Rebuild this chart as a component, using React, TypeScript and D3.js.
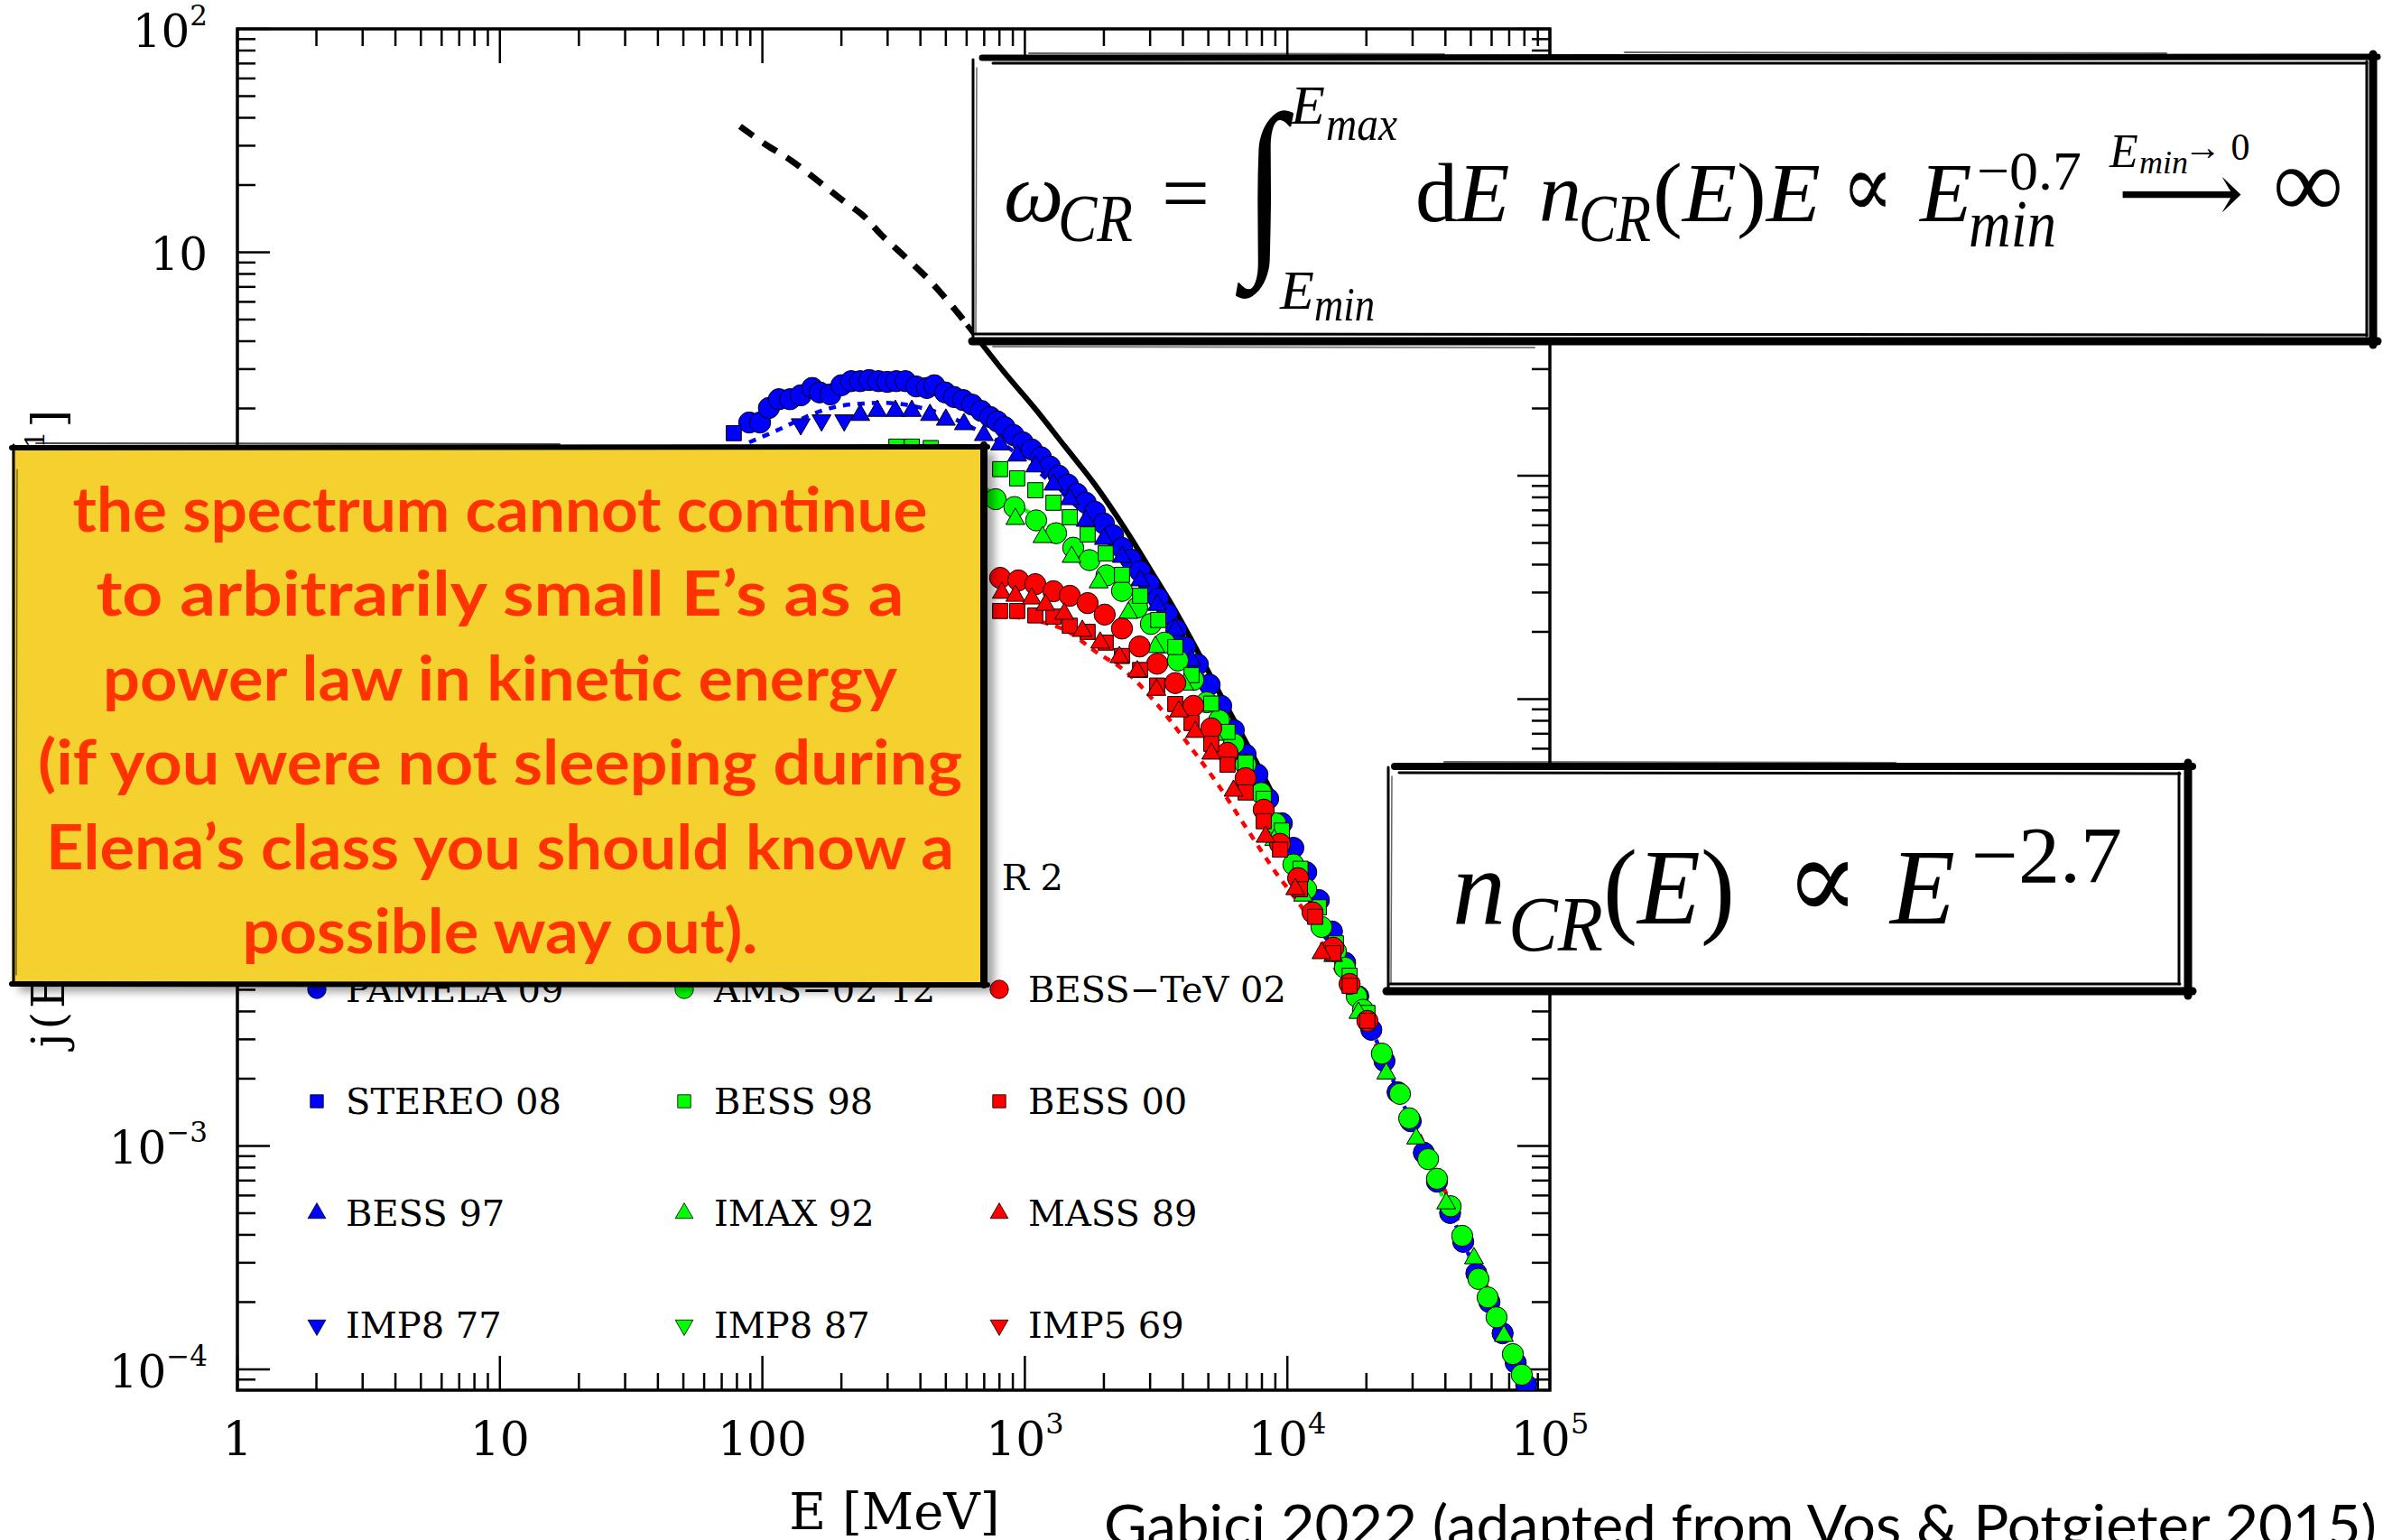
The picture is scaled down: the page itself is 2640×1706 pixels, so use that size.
import React from 'react';
import * as d3 from 'd3';

type Pt = [number, number];

// Proton spectra: kinetic energy E [MeV], intensity j(E)
const pamela09: Pt[] = [
  [89.1, 1.73], [98.0, 1.73], [105.9, 2.01], [115.6, 2.2], [127.4, 2.2], [140.0, 2.29], [154.9, 2.47],
  [165.2, 2.36], [181.6, 2.31], [200.0, 2.54], [217.8, 2.65], [236.0, 2.65], [255.3, 2.68], [276.7, 2.65],
  [299.2, 2.63], [323.6, 2.65], [350.8, 2.65], [385.5, 2.51], [423.6, 2.47], [451.9, 2.54], [496.6, 2.36],
  [537.0, 2.25], [582.1, 2.18], [629.5, 2.08], [682.3, 1.95], [738.0, 1.83], [785.2, 1.75], [837.5, 1.65],
  [905.7, 1.52], [981.8, 1.41], [1062, 1.31], [1151, 1.21], [1245, 1.1], [1346, 1.0], [1459, 0.912],
  [1578, 0.83], [1706, 0.757], [1849, 0.689], [2000, 0.611], [2168, 0.541], [2344, 0.475], [2535, 0.421],
  [2748, 0.373], [2972, 0.327], [3221, 0.282], [3483, 0.241], [3776, 0.204], [4083, 0.171], [4560, 0.143],
  [5058, 0.116], [5598, 0.0933], [6252, 0.0726], [6934, 0.0565], [7691, 0.046], [8453, 0.0358],
  [9528, 0.0278], [10540, 0.0216], [11800, 0.0168], [13180, 0.0126], [14790, 0.00912], [16600, 0.00661],
  [18620, 0.00468], [20890, 0.00331], [23440, 0.0024], [26300, 0.00174], [29510, 0.00129],
  [33110, 0.000933], [37150, 0.000692], [41690, 0.000501], [46770, 0.000372], [52480, 0.000269],
  [58880, 0.0002], [66070, 0.000145], [74130, 0.000107], [81280, 0.0000851],
];
const stereo08: Pt[] = [[77.8, 1.55]];
const bess97: Pt[] = [
  [236, 1.87], [274, 1.95], [321, 1.95], [371, 1.95], [435, 1.87], [500, 1.78], [586, 1.7], [698, 1.52],
  [805, 1.38], [935, 1.23], [1096, 1.1], [1285, 0.912], [1483, 0.785], [1706, 0.628], [2000, 0.521],
  [2344, 0.433], [2748, 0.34], [3192, 0.264], [3741, 0.204], [4315, 0.149],
];
const imp8_77: Pt[] = [[140, 1.7], [168, 1.77], [205, 1.77]];
const ams02: Pt[] = [
  [774, 0.785], [912, 0.724], [1104, 0.631], [1315, 0.553], [1528, 0.476], [1762, 0.419], [2046, 0.358],
  [2344, 0.305], [2679, 0.257], [3020, 0.217], [3404, 0.179], [3828, 0.149], [4385, 0.122], [4932, 0.0968],
  [5495, 0.0804], [6252, 0.0631], [6934, 0.0509], [7943, 0.038], [9016, 0.0278], [10540, 0.0182],
  [11800, 0.0141], [13490, 0.00955], [15310, 0.00743], [16560, 0.00628], [18370, 0.00467], [19410, 0.00407],
  [22910, 0.00259], [26850, 0.00171], [29110, 0.00133], [34360, 0.000873], [37150, 0.000713],
  [41880, 0.000537], [46350, 0.000396], [53460, 0.000254], [57940, 0.00021], [62660, 0.000171],
  [72280, 0.000117], [78160, 0.0000946],
];
const bess98: Pt[] = [
  [324, 1.35], [371, 1.35], [438, 1.33], [805, 1.07], [935, 0.973], [1096, 0.861], [1285, 0.757],
  [1483, 0.652], [1734, 0.546], [2032, 0.449], [2344, 0.36], [2748, 0.29], [3221, 0.226], [3741, 0.171],
  [4315, 0.128], [5129, 0.0955], [5916, 0.0713], [6934, 0.0519], [8128, 0.0358], [9528, 0.0258],
  [11220, 0.0174], [13180, 0.0117], [15310, 0.00807], [17260, 0.00578], [20180, 0.00394],
];
const imax92: Pt[] = [
  [920, 0.64], [1167, 0.531], [1507, 0.433], [1910, 0.333], [2477, 0.243], [3141, 0.171], [4046, 0.116],
  [5248, 0.0692], [6761, 0.0417], [8913, 0.0234], [11480, 0.0132], [14960, 0.00708], [18660, 0.00394],
  [23820, 0.00211], [30970, 0.00108], [40270, 0.000553], [51400, 0.000314], [66830, 0.000141],
];
const imp8_87: Pt[] = [];
const bessTeV02: Pt[] = [
  [805, 0.349], [944, 0.34], [1096, 0.327], [1285, 0.304], [1483, 0.29], [1734, 0.269], [2014, 0.239],
  [2344, 0.207], [2735, 0.172], [3192, 0.144], [3741, 0.118], [4385, 0.0933], [5129, 0.074], [5916, 0.0575],
  [6934, 0.0443], [8128, 0.032], [9376, 0.0225], [10990, 0.0158], [12470, 0.0111], [14960, 0.00771],
  [17260, 0.00531], [20180, 0.00363],
];
const bess00: Pt[] = [
  [805, 0.248], [935, 0.248], [1096, 0.237], [1285, 0.234], [1483, 0.213], [1734, 0.2], [2032, 0.179],
  [2344, 0.156], [2748, 0.135], [3192, 0.115], [3741, 0.0951], [4315, 0.0782], [5129, 0.0631],
  [5916, 0.0509], [6934, 0.0382], [8128, 0.0284], [9376, 0.0212], [11170, 0.0141], [12760, 0.0106],
  [14960, 0.00729], [17260, 0.00521], [20180, 0.00363],
];
const mass89: Pt[] = [
  [817, 0.299], [920, 0.29], [1062, 0.282], [1197, 0.264], [1413, 0.241], [1656, 0.202], [1936, 0.179],
  [2291, 0.154], [2679, 0.133], [3170, 0.11], [3864, 0.0881], [4457, 0.0713], [5129, 0.057], [6237, 0.0389],
  [8260, 0.0242], [10720, 0.0141], [13490, 0.00729],
];
const imp5_69: Pt[] = [];

// Modulated model spectra (dotted)
const modelBlue: Pt[] = [
  [89.1, 1.41], [112.2, 1.585], [131.8, 1.73], [158.5, 1.905], [196.8, 2.05], [251.2, 2.11], [316.2, 2.11],
  [398.1, 2.02], [496.6, 1.87], [631, 1.64], [837.5, 1.37], [1096, 1.07], [1585, 0.724], [2512, 0.427],
  [3981, 0.182], [6310, 0.0692], [10000, 0.0224], [15850, 0.00724], [25120, 0.002], [39810, 0.000575],
  [63100, 0.000166], [85100, 0.0000759],
];
const modelGreen: Pt[] = [
  [708, 0.871], [891, 0.759], [1122, 0.646], [1413, 0.525], [1778, 0.417], [2239, 0.324], [2818, 0.24],
  [3548, 0.17], [4467, 0.115], [5623, 0.0759], [7079, 0.0479], [8913, 0.0288], [11220, 0.017],
  [15850, 0.00692], [25120, 0.00195], [39810, 0.000562], [63100, 0.000162], [85110, 0.0000724],
];
const modelRed: Pt[] = [
  [794, 0.237], [1038, 0.228], [1422, 0.204], [1849, 0.164], [2421, 0.133], [3141, 0.0968], [4083, 0.0655],
  [5346, 0.0427], [6934, 0.0268], [9016, 0.0168], [11750, 0.011], [15920, 0.00562], [23820, 0.0023],
  [35730, 0.000841], [53460, 0.000284], [65160, 0.000171], [85110, 0.0000813],
];

// Power-law spectrum: extrapolated part (dashed) and measured-range part (solid)
const powerLawLow: Pt[] = [
  [82.2, 36.6], [102.8, 30.4], [129.1, 25.7], [162.6, 20.9], [198.2, 17.4], [243.8, 14.5], [283.1, 12.0],
  [342.0, 9.77], [440.6, 7.33], [567.5, 5.19], [602.6, 4.73],
];
const powerLawHigh: Pt[] = [
  [602.6, 4.73], [837.5, 2.89], [1096, 1.99], [1422, 1.35], [1849, 0.912], [2421, 0.573], [3141, 0.349],
  [3681, 0.257], [4571, 0.162], [5623, 0.102], [7079, 0.0617], [8913, 0.0363],
];

const xTickValues = [1, 10, 100, 1e3, 1e4, 1e5];
const xTickBase = ['1', '10', '100', '10', '10', '10'];
const xTickExp = ['', '', '', '3', '4', '5'];
const yTickValues = [100, 10, 1, 0.1, 0.01, 1e-3, 1e-4];
const yTickBase = ['10', '10', '1', '10', '10', '10', '10'];
const yTickExp = ['2', '', '', '−1', '−2', '−3', '−4'];

const legendColumns = [
  ['PAMELA 09', 'STEREO 08', 'BESS 97', 'IMP8 77'],
  ['AMS−02 12', 'BESS 98', 'IMAX 92', 'IMP8 87'],
  ['BESS−TeV 02', 'BESS 00', 'MASS 89', 'IMP5 69'],
];
const seriesData: Pt[][][] = [
  [pamela09, stereo08, bess97, imp8_77],
  [ams02, bess98, imax92, imp8_87],
  [bessTeV02, bess00, mass89, imp5_69],
];
const columnColors = ['#0000ff', '#00ff00', '#ff0000'];
const rowShapes = ['circle', 'square', 'up', 'down'];

const noteLines = [
  'the spectrum cannot continue',
  'to arbitrarily small E’s as a',
  'power law in kinetic energy',
  '(if you were not sleeping during',
  'Elena’s class you should know a',
  'possible way out).',
];

const W = 2640;
const H = 1706;
const L = 263, R = 1717, T = 32, B = 1540;

const x = d3.scaleLog().domain([1, 1e5]).range([L, R]);
const y = d3.scaleLog().domain([8.07e-5, 100]).range([B, T]);

const line = d3
  .line<Pt>()
  .x((d) => x(d[0]))
  .y((d) => y(d[1]))
  .curve(d3.curveCatmullRom.alpha(0.5));

const isDecade = (v: number) => Math.abs(Math.log10(v) - Math.round(Math.log10(v))) < 1e-6;

function symbolPath(shape: string, kind: 'data' | 'legend'): string {
  const big = kind === 'data';
  if (shape === 'circle') return d3.symbol().type(d3.symbolCircle).size(big ? 430 : 330)()!;
  if (shape === 'square') return d3.symbol().type(d3.symbolSquare).size(big ? 280 : 210)()!;
  return d3.symbol().type(d3.symbolTriangle).size(big ? 190 : 170)()!;
}

function Marker({ cx, cy, shape, color, kind }: { cx: number; cy: number; shape: string; color: string; kind: 'data' | 'legend' }) {
  const rot = shape === 'down' ? ' rotate(180)' : '';
  return (
    <path
      d={symbolPath(shape, kind)}
      transform={`translate(${cx},${cy})${rot}`}
      fill={color}
      stroke="#000"
      strokeWidth={kind === 'data' ? 1 : 0.8}
    />
  );
}

const serif = "'DejaVu Serif', serif";
const mathFont = "'Liberation Serif', 'DejaVu Serif', serif";
const symFont = "'DejaVu Serif', serif";
const handFont = "Lato, 'Open Sans', sans-serif";

function Axes() {
  const xt = x.ticks();
  const yt = y.ticks();
  return (
    <g stroke="#000" strokeWidth={2.5}>
      {xt.map((v, i) => {
        const len = isDecade(v) ? 38 : 19;
        const px = x(v);
        return (
          <g key={`xt${i}`}>
            <line x1={px} x2={px} y1={B} y2={B - len} />
            <line x1={px} x2={px} y1={T} y2={T + len} />
          </g>
        );
      })}
      {yt.map((v, i) => {
        const len = isDecade(v) ? 36 : 20;
        const py = y(v);
        return (
          <g key={`yt${i}`}>
            <line x1={L} x2={L + len} y1={py} y2={py} />
            <line x1={R} x2={R - len} y1={py} y2={py} />
          </g>
        );
      })}
      <rect x={L} y={T} width={R - L} height={B - T} fill="none" strokeWidth={3.5} />
    </g>
  );
}

function TickLabels() {
  return (
    <g fontFamily={serif} fill="#000">
      {xTickValues.map((v, i) => (
        <text key={`xl${i}`} x={x(v)} y={1612} fontSize={52} textAnchor="middle">
          {xTickBase[i]}
          {xTickExp[i] && (
            <tspan fontSize={32} dy={-24}>
              {xTickExp[i]}
            </tspan>
          )}
        </text>
      ))}
      {yTickValues.map((v, i) => (
        <text key={`yl${i}`} x={230} y={y(v) + 20} fontSize={50} textAnchor="end">
          {yTickBase[i]}
          {yTickExp[i] && (
            <tspan fontSize={31} dy={-24}>
              {yTickExp[i]}
            </tspan>
          )}
        </text>
      ))}
      <text x={991} y={1694} fontSize={56} textAnchor="middle">
        E [MeV]
      </text>
      <text transform="translate(71,1160) rotate(-90)" fontSize={50} letterSpacing={4}>
        j(E) [m<tspan fontSize={30} dy={-22}>−2</tspan>
        <tspan dy={22}> s</tspan>
        <tspan fontSize={30} dy={-22}>−1</tspan>
        <tspan dy={22}> sr</tspan>
        <tspan fontSize={30} dy={-22}>−1</tspan>
        <tspan dy={22}> MeV</tspan>
        <tspan fontSize={30} dy={-22}>−1</tspan>
        <tspan dy={22}>]</tspan>
      </text>
    </g>
  );
}

function Curves() {
  return (
    <g clipPath="url(#plotClip)" fill="none">
      <path d={line(modelBlue)!} stroke="#0000ff" strokeWidth={4.5} strokeDasharray="8 8" />
      <path d={line(modelGreen)!} stroke="#00ff00" strokeWidth={4.5} strokeDasharray="8 8" />
      <path d={line(modelRed)!} stroke="#ff0000" strokeWidth={4.5} strokeDasharray="8 8" />
      <path d={line(powerLawLow)!} stroke="#000" strokeWidth={7} strokeDasharray="18 13" />
      <path d={line(powerLawHigh)!} stroke="#000" strokeWidth={6} />
    </g>
  );
}

function DataPoints() {
  return (
    <g clipPath="url(#plotClip)">
      {seriesData.map((col, c) =>
        col.map((pts, r) =>
          pts.map((d, k) => (
            <Marker key={`m${c}-${r}-${k}`} cx={x(d[0])} cy={y(d[1])} shape={rowShapes[r]} color={columnColors[c]} kind="data" />
          ))
        )
      )}
    </g>
  );
}

function Legend() {
  const markerX = [351, 758, 1107];
  const textX = [383, 791, 1139];
  const baseRow = 986;
  const rowStep = 124;
  return (
    <g fontFamily={serif} fontSize={40} fill="#000">
      <text x={1178} y={baseRow} textAnchor="end">
        VOYAGE<tspan dx={16}>R 2</tspan>
      </text>
      {legendColumns.map((names, c) =>
        names.map((name, r) => {
          const by = baseRow + (r + 1) * rowStep;
          return (
            <g key={`lg${c}-${r}`}>
              <Marker cx={markerX[c]} cy={by - 14} shape={rowShapes[r]} color={columnColors[c]} kind="legend" />
              <text x={textX[c]} y={by}>
                {name}
              </text>
            </g>
          );
        })
      )}
    </g>
  );
}

function NoteBox() {
  const widths = [947, 895, 880, 1024, 1006, 571];
  return (
    <g>
      <rect x={21} y={501} width={1081} height={598} fill="#000" opacity={0.35} filter="url(#soft)" />
      <rect x={13} y={493} width={1081} height={598} fill="#f5d130" />
      <g stroke="#000" strokeLinecap="round">
        <line x1={13} y1={496} x2={1094} y2={495} strokeWidth={6} />
        <line x1={40} y1={491} x2={620} y2={492} strokeWidth={2} opacity={0.7} />
        <line x1={1090} y1={493} x2={1090} y2={1091} strokeWidth={8} />
        <line x1={13} y1={1090} x2={1094} y2={1091} strokeWidth={6} />
        <line x1={15} y1={493} x2={15} y2={1091} strokeWidth={3} />
        <line x1={19} y1={520} x2={18} y2={1080} strokeWidth={1.2} opacity={0.6} />
      </g>
      <g fontFamily={handFont} fontWeight={700} fontSize={68} fill="#ff3300" textAnchor="middle">
        {noteLines.map((t, i) => (
          <text key={`n${i}`} x={554} y={589 + i * 93.4} textLength={widths[i]} lengthAdjust="spacingAndGlyphs">
            {t}
          </text>
        ))}
      </g>
    </g>
  );
}

function EnergyBox() {
  return (
    <g>
      <rect x={1077} y={62} width={1557} height={320} fill="#fff" />
      <g stroke="#000" strokeLinecap="round">
        <line x1={1088} y1={64} x2={2634} y2={63} strokeWidth={7} />
        <line x1={1100} y1={70} x2={2622} y2={70} strokeWidth={3} />
        <line x1={1140} y1={59} x2={1600} y2={60} strokeWidth={2} opacity={0.6} />
        <line x1={1800} y1={58} x2={2400} y2={59} strokeWidth={2} opacity={0.6} />
        <line x1={2629} y1={60} x2={2629} y2={382} strokeWidth={9} />
        <line x1={2622} y1={68} x2={2622} y2={372} strokeWidth={3} />
        <line x1={1077} y1={378} x2={2634} y2={378} strokeWidth={9} />
        <line x1={1080} y1={370} x2={2622} y2={371} strokeWidth={3} />
        <line x1={1100} y1={384} x2={1700} y2={385} strokeWidth={2} opacity={0.5} />
        <line x1={1078} y1={66} x2={1078} y2={380} strokeWidth={3} />
        <line x1={1082} y1={75} x2={1081} y2={370} strokeWidth={1.5} opacity={0.6} />
      </g>
      <g fontFamily={mathFont} fill="#000">
        <text x={1112} y={245} fontSize={94} fontStyle="italic">ω</text>
        <text x={1172} y={267} fontSize={74} fontStyle="italic" textLength={83} lengthAdjust="spacingAndGlyphs">CR</text>
        <text x={1287} y={245} fontSize={94}>=</text>
        <text transform="translate(1378,274) scale(1,1.25)" fontSize={170}>∫</text>
        <text x={1430} y={137} fontSize={62} fontStyle="italic">E</text>
        <text x={1469} y={155} fontSize={52} fontStyle="italic" textLength={79} lengthAdjust="spacingAndGlyphs">max</text>
        <text x={1418} y={342} fontSize={62} fontStyle="italic">E</text>
        <text x={1456} y={355} fontSize={52} fontStyle="italic" textLength={67} lengthAdjust="spacingAndGlyphs">min</text>
        <text x={1568} y={245} fontSize={94}>
          d<tspan fontStyle="italic">E</tspan>
        </text>
        <text x={1705} y={245} fontSize={94} fontStyle="italic">n</text>
        <text x={1749} y={267} fontSize={74} fontStyle="italic" textLength={80} lengthAdjust="spacingAndGlyphs">CR</text>
        <text x={1831} y={245} fontSize={94} textLength={186} lengthAdjust="spacingAndGlyphs">
          (<tspan fontStyle="italic">E</tspan>)<tspan fontStyle="italic">E</tspan>
        </text>
        <text x={2040} y={240} fontSize={100} fontFamily={symFont} textLength={58} lengthAdjust="spacingAndGlyphs">∝</text>
        <text x={2127} y={245} fontSize={94} fontStyle="italic">E</text>
        <text x={2190} y={210} fontSize={62} textLength={116} lengthAdjust="spacingAndGlyphs">−0.7</text>
        <text x={2181} y={273} fontSize={74} fontStyle="italic" textLength={97} lengthAdjust="spacingAndGlyphs">min</text>
        <text x={2337} y={185} fontSize={52} fontStyle="italic">E</text>
        <text x={2370} y={192} fontSize={36} fontStyle="italic">min</text>
        <text x={2419} y={177} fontSize={42}>→ 0</text>
        <text x={2346} y={246} fontSize={94} textLength={140} lengthAdjust="spacingAndGlyphs">⟶</text>
        <text x={2518} y={240} fontSize={110} textLength={78} lengthAdjust="spacingAndGlyphs">∞</text>
      </g>
    </g>
  );
}

function SpectrumBox() {
  return (
    <g>
      <rect x={1536} y={847} width={893} height={254} fill="#fff" />
      <g stroke="#000" strokeLinecap="round">
        <line x1={1545} y1={849} x2={2429} y2={849} strokeWidth={8} />
        <line x1={1550} y1={856} x2={2415} y2={857} strokeWidth={3} />
        <line x1={1600} y1={844} x2={2100} y2={845} strokeWidth={2} opacity={0.6} />
        <line x1={2424} y1={845} x2={2424} y2={1103} strokeWidth={9} />
        <line x1={2414} y1={856} x2={2414} y2={1090} strokeWidth={3} />
        <line x1={1536} y1={1098} x2={2429} y2={1098} strokeWidth={9} />
        <line x1={1540} y1={1090} x2={2415} y2={1090} strokeWidth={3} />
        <line x1={1538} y1={850} x2={1538} y2={1100} strokeWidth={3} />
        <line x1={1542} y1={860} x2={1541} y2={1090} strokeWidth={1.5} opacity={0.6} />
      </g>
      <g fontFamily={mathFont} fill="#000">
        <text x={1609} y={1023} fontSize={118} fontStyle="italic">n</text>
        <text x={1671} y={1053} fontSize={86} fontStyle="italic" textLength={105} lengthAdjust="spacingAndGlyphs">CR</text>
        <text x={1776} y={1023} fontSize={118} textLength={146} lengthAdjust="spacingAndGlyphs">
          (<tspan fontStyle="italic">E</tspan>)
        </text>
        <text x={1978} y={1018} fontSize={128} fontFamily={symFont} textLength={82} lengthAdjust="spacingAndGlyphs">∝</text>
        <text x={2094} y={1023} fontSize={118} fontStyle="italic">E</text>
        <text x={2184} y={977} fontSize={88} textLength={167} lengthAdjust="spacingAndGlyphs">−2.7</text>
      </g>
    </g>
  );
}

export default function App() {
  return (
    <div style={{ position: 'absolute', left: 0, top: 0, width: W, height: H, background: '#fff' }}>
      <svg width={W} height={H} viewBox={`0 0 ${W} ${H}`} style={{ display: 'block' }}>
        <defs>
          <clipPath id="plotClip">
            <rect x={L} y={T} width={R - L} height={B - T} />
          </clipPath>
          <filter id="soft" x="-5%" y="-5%" width="110%" height="110%">
            <feGaussianBlur stdDeviation={5} />
          </filter>
        </defs>
        <rect width={W} height={H} fill="#fff" />
        <Axes />
        <TickLabels />
        <Curves />
        <DataPoints />
        <Legend />
        <NoteBox />
        <EnergyBox />
        <SpectrumBox />
        <text x={1223} y={1712} fontFamily={handFont} fontSize={62} textLength={1410} lengthAdjust="spacingAndGlyphs" fill="#000">
          Gabici 2022 (adapted from Vos &amp; Potgieter 2015)
        </text>
      </svg>
    </div>
  );
}
